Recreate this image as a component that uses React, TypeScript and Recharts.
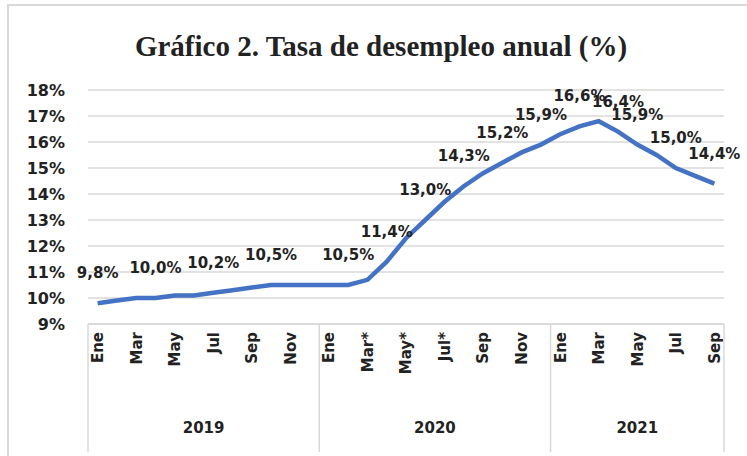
import React from 'react';
import { LineChart, Line, XAxis, YAxis, CartesianGrid, LabelList } from 'recharts';

const months2019 = ['Ene', 'Feb', 'Mar', 'Abr', 'May', 'Jun', 'Jul', 'Ago', 'Sep', 'Oct', 'Nov', 'Dic'];
const months2020 = ['Ene', 'Feb', 'Mar*', 'Abr*', 'May*', 'Jun*', 'Jul*', 'Ago', 'Sep', 'Oct', 'Nov', 'Dic'];
const months2021 = ['Ene', 'Feb', 'Mar', 'Abr', 'May', 'Jun', 'Jul', 'Ago', 'Sep'];
const years = ['2019', '2020', '2021'];

const rates2019 = [9.8, 9.9, 10.0, 10.0, 10.1, 10.1, 10.2, 10.3, 10.4, 10.5, 10.5, 10.5];
const rates2020 = [10.5, 10.5, 10.7, 11.4, 12.3, 13.0, 13.7, 14.3, 14.8, 15.2, 15.6, 15.9];
const rates2021 = [16.3, 16.6, 16.8, 16.4, 15.9, 15.5, 15.0, 14.7, 14.4];

// indices (in the monthly sequence) that carry a data label
const labeledMonths = [0, 3, 6, 9, 13, 15, 17, 19, 21, 23, 25, 27, 28, 30, 32];

const yTicks = [9, 10, 11, 12, 13, 14, 15, 16, 17, 18];

const groups = [
  { year: years[0], months: months2019, rates: rates2019 },
  { year: years[1], months: months2020, rates: rates2020 },
  { year: years[2], months: months2021, rates: rates2021 },
];

type Row = { key: string; month: string; year: string; first: boolean; count: number; rate: number; label: string | null };

const data: Row[] = [];
groups.forEach((g) => {
  g.months.forEach((m, j) => {
    data.push({
      key: `${g.year}-${j}`,
      month: m,
      year: g.year,
      first: j === 0,
      count: g.months.length,
      rate: g.rates[j],
      label: null,
    });
  });
});
data.forEach((d, i) => {
  if (labeledMonths.includes(i)) d.label = d.rate.toFixed(1).replace('.', ',') + '%';
});

const W = 747;
const H = 456;
const M = { top: 90, right: 23, bottom: 10, left: 0 };
const Y_AXIS_W = 88;
const PLOT_W = W - M.left - M.right - Y_AXIS_W;
const STEP = PLOT_W / data.length;
const TEXT = '#222222';
const GRID = '#d9d9d9';
const SANS = 'DejaVu Sans, sans-serif';

const MonthTick = (props: any) => {
  const { x, y, payload } = props;
  const i = payload.index;
  const d = data[i];
  if (!d) return null;
  const els: React.ReactNode[] = [];
  if (i % 2 === 0) {
    els.push(
      <text
        key="m"
        x={x}
        y={y + 8}
        transform={`rotate(-90 ${x} ${y + 8})`}
        textAnchor="end"
        dy="0.36em"
        fontFamily={SANS}
        fontWeight="bold"
        fontSize={15}
        fill={TEXT}
      >
        {d.month}
      </text>
    );
  }
  if (d.first) {
    const left = x - STEP / 2;
    els.push(<line key="d" x1={left} x2={left} y1={y} y2={452} stroke={GRID} strokeWidth={1.5} />);
    els.push(
      <text
        key="y"
        x={left + (d.count * STEP) / 2}
        y={433}
        textAnchor="middle"
        fontFamily={SANS}
        fontWeight="bold"
        fontSize={15}
        fill={TEXT}
      >
        {d.year}
      </text>
    );
  }
  if (i === data.length - 1) {
    const right = x + STEP / 2;
    els.push(<line key="r" x1={right} x2={right} y1={y} y2={452} stroke={GRID} strokeWidth={1.5} />);
  }
  return <g>{els}</g>;
};

const renderLabel = (props: any) => {
  const { x, y, value } = props;
  if (value === null || value === undefined) return null;
  return (
    <text
      x={x}
      y={y - 25}
      textAnchor="middle"
      fontFamily={SANS}
      fontWeight="bold"
      fontSize={15}
      fill={TEXT}
    >
      {value}
    </text>
  );
};

export default function App() {
  return (
    <div style={{ position: 'absolute', left: 0, top: 0, width: W, height: H, background: '#fff', overflow: 'hidden' }}>
      <div
        style={{
          position: 'absolute',
          left: 7,
          top: 4,
          width: W - 7,
          height: H - 4,
          borderTop: `2px solid ${GRID}`,
          borderLeft: `2px solid ${GRID}`,
          boxSizing: 'border-box',
        }}
      />
      <div
        style={{
          position: 'absolute',
          left: 0,
          top: 32,
          width: 762,
          textAlign: 'center',
          fontFamily: 'Liberation Serif, Times New Roman, serif',
          fontWeight: 'bold',
          fontSize: 29,
          lineHeight: '29px',
          color: TEXT,
          whiteSpace: 'nowrap',
        }}
      >
        Gráfico 2. Tasa de desempleo anual (%)
      </div>
      <div style={{ position: 'absolute', left: 0, top: 0 }}>
        <LineChart width={W} height={H} data={data} margin={M}>
          <CartesianGrid vertical={false} stroke={GRID} strokeWidth={1.5} />
          <XAxis
            dataKey="key"
            interval={0}
            height={H - M.top - M.bottom - 234}
            tick={<MonthTick />}
            tickLine={false}
            tickSize={0}
            tickMargin={0}
            axisLine={{ stroke: GRID, strokeWidth: 1.5 }}
            padding={{ left: STEP / 2, right: STEP / 2 }}
          />
          <YAxis
            width={Y_AXIS_W}
            domain={[9, 18]}
            ticks={yTicks}
            interval={0}
            tickFormatter={(v: number) => `${v}%`}
            axisLine={false}
            tickLine={false}
            tickSize={0}
            tickMargin={23}
            tick={{ fontFamily: SANS, fontWeight: 'bold', fontSize: 16, fill: TEXT }}
          />
          <Line
            type="linear"
            dataKey="rate"
            stroke="#4472C4"
            strokeWidth={4.5}
            dot={false}
            activeDot={false}
            isAnimationActive={false}
          >
            <LabelList dataKey="label" content={renderLabel} />
          </Line>
        </LineChart>
      </div>
    </div>
  );
}
